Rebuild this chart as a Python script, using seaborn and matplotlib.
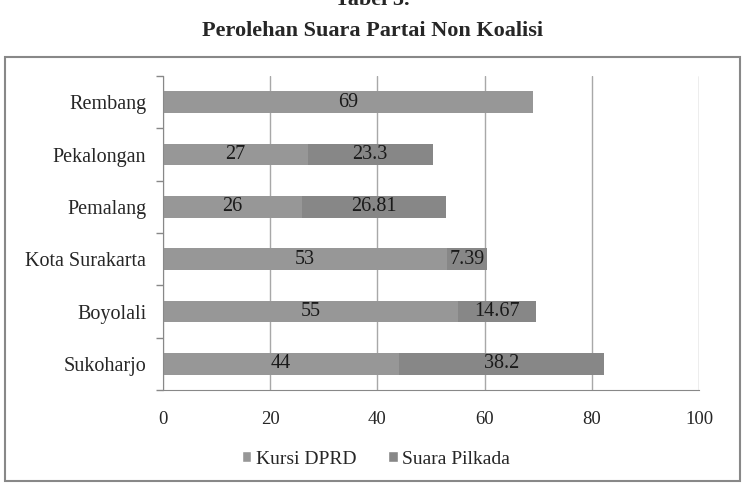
import matplotlib
matplotlib.use("Agg")
import matplotlib.pyplot as plt
import seaborn as sns
import numpy as np
import pandas as pd
from matplotlib.patches import Rectangle, Patch

categories = ["Rembang", "Pekalongan", "Pemalang", "Kota Surakarta", "Boyolali", "Sukoharjo"]
kursi_dprd = [69, 27, 26, 53, 55, 44]
suara_pilkada = [0, 23.3, 26.81, 7.39, 14.67, 38.2]
kursi_labels = ["69", "27", "26", "53", "55", "44"]
suara_labels = ["", "23.3", "26.81", "7.39", "14.67", "38.2"]
x_ticks = [0, 20, 40, 60, 80, 100]

sns.set_style("white")
plt.rcParams["font.family"] = ["Liberation Serif", "DejaVu Serif"]

c_kursi = "#979797"
c_suara = "#878787"

df = pd.DataFrame({"cat": categories, "kursi": kursi_dprd, "suara": suara_pilkada})
df["total"] = df["kursi"] + df["suara"]

fig = plt.figure(figsize=(7.45, 4.86), dpi=100)
ax = fig.add_axes([163/745, 1-390/486, (699-163)/745, (390-76)/486])

sns.barplot(data=df, x="total", y="cat", color=c_suara, orient="h", width=0.42,
            saturation=1, linewidth=0, ax=ax, zorder=3)
sns.barplot(data=df, x="kursi", y="cat", color=c_kursi, orient="h", width=0.42,
            saturation=1, linewidth=0, ax=ax, zorder=3)

for i, (k, s) in enumerate(zip(kursi_dprd, suara_pilkada)):
    ax.text(k / 2, i, kursi_labels[i], ha="center", va="center", fontsize=14.5, color="#1a1a1a", zorder=5)
    if suara_labels[i]:
        ax.text(k + s / 2, i, suara_labels[i], ha="center", va="center", fontsize=14.5, color="#1a1a1a", zorder=5)

ax.set_xlim(0, 100)
ax.set_ylim(len(categories) - 0.5, -0.5)
ax.set_xticks(x_ticks)
ax.set_xticklabels([str(t) for t in x_ticks], fontsize=13.5)
ax.set_yticks(range(len(categories)))
ax.set_yticklabels(categories, fontsize=14.5)
ax.set_yticks(np.arange(-0.5, len(categories), 1), minor=True)
ax.tick_params(axis="y", which="major", length=0, pad=12)
ax.tick_params(axis="y", which="minor", left=True, length=5, width=1, color="#888888", direction="out")
ax.tick_params(axis="x", which="major", length=0, pad=15)
ax.set_xlabel("")
ax.set_ylabel("")
ax.xaxis.grid(True, color="#a8a8a8", linewidth=1, zorder=0)
ax.set_axisbelow(True)
for sp in ["top", "right"]:
    ax.spines[sp].set_visible(False)
ax.spines["left"].set_color("#888888")
ax.spines["bottom"].set_color("#888888")
ax.spines["left"].set_zorder(4)

handles = [Patch(facecolor=c_kursi, label="Kursi DPRD"), Patch(facecolor=c_suara, label="Suara Pilkada")]
fig.legend(handles=handles, loc="center", bbox_to_anchor=(376/745, 1-459/486), ncol=2, frameon=False,
           fontsize=14, handlelength=0.5, handleheight=0.5, handletextpad=0.25, columnspacing=1.6)

fig.patches.append(Rectangle((5/745, 1-481/486), 735/745, 424/486, transform=fig.transFigure,
                             fill=False, edgecolor="#888888", linewidth=1.5))

fig.text(0.5, 1.0, "Tabel 5.", ha="center", va="center", fontsize=16, fontweight="bold")
fig.text(0.5, 1-31/486, "Perolehan Suara Partai Non Koalisi", ha="center", va="center",
         fontsize=16, fontweight="bold")

fig.savefig("out.png", dpi=100)
